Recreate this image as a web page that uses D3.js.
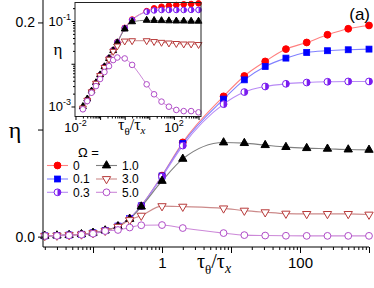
<!DOCTYPE html>
<html><head><meta charset="utf-8">
<script src="https://cdn.jsdelivr.net/npm/d3@7"></script>
<style>body{margin:0;background:#fff}svg{display:block}</style>
</head><body>
<script>
// ---------- data ----------
const tauRatio = [0.02, 0.03, 0.045, 0.068, 0.1, 0.15, 0.23, 0.34, 0.5, 1, 2, 7.8, 15.6, 31.3, 62.5, 125, 250, 500, 1000];
const omegaLabels = ["0", "0.1", "0.3", "1.0", "3.0", "5.0"];
// main panel (linear eta)
const etaW0  = [0.0007,0.001,0.0015,0.0022,0.0035,0.0058,0.0098,0.017,0.0288,0.057,0.088,0.131,0.150,0.1636,0.1751,0.1813,0.1885,0.1941,0.1972];
const etaW01 = [0.0007,0.001,0.0015,0.0022,0.0035,0.0058,0.0098,0.017,0.0287,0.0566,0.087,0.1284,0.1464,0.1589,0.1667,0.172,0.1736,0.1745,0.1751];
const etaW03 = [0.0007,0.001,0.0015,0.0022,0.0035,0.0058,0.0098,0.017,0.0285,0.056,0.085,0.1237,0.135,0.1402,0.1427,0.1439,0.1446,0.1449,0.1449];
const etaW1  = [0.0007,0.001,0.0015,0.0022,0.0035,0.0057,0.0096,0.0165,0.028,0.052,0.0726,0.0879,0.0873,0.0854,0.0836,0.0826,0.082,0.0813,0.081];
const etaW3  = [0.0007,0.001,0.0015,0.0021,0.0033,0.0055,0.0092,0.0155,0.0196,0.0285,0.028,0.0264,0.0243,0.0228,0.0215,0.0212,0.0212,0.0212,0.0206];
const etaW5  = [0.0006,0.0007,0.0012,0.0018,0.0027,0.0052,0.0062,0.0085,0.0106,0.0108,0.008,0.0033,0.0014,0.001,0.0008,0.0007,0.0007,0.0007,0.0007];
// inset (log eta)
const insW0  = [0.00092,0.00144,0.00225,0.0035,0.0054,0.0085,0.0135,0.0207,0.032,0.069,0.108,0.17,0.198,0.216,0.228,0.237,0.246,0.25,0.259];
const insW03 = [0.00088,0.0014,0.0022,0.0035,0.0054,0.0085,0.0135,0.0207,0.0318,0.068,0.105,0.165,0.177,0.181,0.181,0.181,0.181,0.182,0.182];
const insW1  = [0.001,0.0015,0.0023,0.0036,0.0055,0.0085,0.0133,0.0203,0.031,0.065,0.096,0.104,0.103,0.102,0.101,0.1,0.1,0.099,0.099];
const insW3  = [0.00092,0.0014,0.0022,0.0035,0.0053,0.0082,0.0128,0.0195,0.026,0.034,0.0346,0.0346,0.0331,0.0317,0.0306,0.0298,0.029,0.029,0.0282];
const insW5  = [0.00086,0.00134,0.0021,0.003,0.0044,0.0064,0.0088,0.0122,0.014,0.0133,0.0094,0.0033,0.00193,0.0013,0.00099,0.00083,0.00078,0.00078,0.00073];
// ticks
const mainXMajor = [0.1, 1, 10, 100, 1000];
const mainXLabels = {1: "1", 100: "100"};
const mainYTicks = [0, 0.1, 0.2];
const mainYLabels = {0: "0.0", 0.2: "0.2"};
const insXMajor = [0.01, 0.1, 1, 10, 100, 1000];
const insXLabels = {0.01: "-2", 100: "2"};
const insYMajor = [0.001, 0.01, 0.1];
const insYLabels = {0.1: "-1", 0.001: "-3"};

// ---------- styles ----------
const styles = [
  {key:"0",   marker:"circle",  stroke:"#ff0000", fill:"#ff0000", line:"#ff8080"},
  {key:"0.1", marker:"square",  stroke:"#0000ff", fill:"#0000ff", line:"#8080ff"},
  {key:"0.3", marker:"half",    stroke:"#7a1cf0", fill:"#7a1cf0", line:"#b88af5"},
  {key:"1.0", marker:"tri",     stroke:"#000000", fill:"#000000", line:"#808080"},
  {key:"3.0", marker:"tridown", stroke:"#b83a3a", fill:"#ffffff", line:"#cc8a8a"},
  {key:"5.0", marker:"ocircle", stroke:"#b04cc8", fill:"#ffffff", line:"#cc88d8"}
];
const mainSeries = [etaW0, etaW01, etaW03, etaW1, etaW3, etaW5];
const insSeries  = [insW0, null, insW03, insW1, insW3, insW5];

const W = 374, H = 288;
const sans = "'Liberation Sans', Arial, Helvetica, sans-serif";
const serif = "'Liberation Serif', 'Times New Roman', serif";
const svg = d3.select("body").append("svg").attr("width", W).attr("height", H)
  .style("font-family", sans);

function minorTicks(lo, hi) {
  const out = [];
  for (let e = -3; e <= 3; e++) for (let m = 2; m <= 9; m++) {
    const v = m * Math.pow(10, e);
    if (v >= lo && v <= hi) out.push(v);
  }
  return out;
}

function drawMarker(g, type, st, cx, cy, r) {
  if (type === "circle" || type === "ocircle") {
    g.append("circle").attr("cx", cx).attr("cy", cy).attr("r", r)
      .attr("fill", st.fill).attr("stroke", st.stroke).attr("stroke-width", 1);
  } else if (type === "square") {
    const s = r * 1.75;
    g.append("rect").attr("x", cx - s/2).attr("y", cy - s/2).attr("width", s).attr("height", s)
      .attr("fill", st.fill).attr("stroke", st.stroke).attr("stroke-width", 0.8);
  } else if (type === "half") {
    g.append("circle").attr("cx", cx).attr("cy", cy).attr("r", r)
      .attr("fill", "#ffffff").attr("stroke", st.stroke).attr("stroke-width", 1);
    g.append("path").attr("d", `M${cx},${cy - r} A${r},${r} 0 0 1 ${cx},${cy + r} Z`)
      .attr("fill", st.fill);
  } else if (type === "tri" || type === "tridown") {
    const sym = d3.symbol().type(d3.symbolTriangle).size(r * r * 2.6);
    g.append("path").attr("d", sym())
      .attr("transform", `translate(${cx},${cy})` + (type === "tridown" ? " rotate(180)" : ""))
      .attr("fill", st.fill).attr("stroke", st.stroke).attr("stroke-width", 1);
  }
}

// ---------- main panel ----------
const x = d3.scaleLog().domain([Math.pow(10, -1.725), 1000]).range([43, 369]);
const y = d3.scaleLinear().domain([-0.0097, 0.2205]).range([247, 0.5]);

const mainG = svg.append("g");
styles.forEach((st, i) => {
  const pts = tauRatio.map((t, j) => [t, mainSeries[i][j]]);
  const line = d3.line().x(d => x(d[0])).y(d => y(d[1])).curve(d3.curveMonotoneX);
  mainG.append("path").attr("d", line(pts)).attr("fill", "none")
    .attr("stroke", st.line).attr("stroke-width", 1.1);
});
styles.forEach((st, i) => {
  const g = mainG.append("g");
  tauRatio.forEach((t, j) => drawMarker(g, st.marker, st, x(t), y(mainSeries[i][j]), 3.4));
});

// x axis
const xMinor = minorTicks(x.domain()[0], 1000);
svg.append("g").attr("transform", "translate(0,247)")
  .call(d3.axisBottom(x).tickValues(xMinor).tickSize(3).tickSizeOuter(0).tickFormat(""))
  .call(g => g.select(".domain").remove());
const xAx = svg.append("g").attr("transform", "translate(0,247)")
  .call(d3.axisBottom(x).tickValues(mainXMajor).tickSize(6).tickSizeOuter(0)
    .tickFormat(d => mainXLabels[d] || ""));
xAx.select(".domain").attr("d", "M43,0H369");
xAx.selectAll("text").attr("font-size", 15).attr("font-family", sans).attr("dy", null).attr("y", 21);
svg.selectAll(".tick line").attr("stroke", "#000");

// y axis
const yAx = svg.append("g").attr("transform", "translate(43,0)")
  .call(d3.axisLeft(y).tickValues(mainYTicks).tickSize(5).tickSizeOuter(0)
    .tickFormat(d => mainYLabels[d] || ""));
yAx.select(".domain").attr("d", "M0,0V247");
yAx.selectAll("text").attr("font-size", 14).attr("font-family", sans).attr("x", -8);

// axis titles
svg.append("text").attr("x", 15).attr("y", 138).attr("text-anchor", "middle")
  .attr("font-family", serif).attr("font-size", 24).text("η");
const xt = svg.append("text").attr("x", 197).attr("y", 268).attr("font-family", serif).attr("font-size", 20);
xt.append("tspan").text("τ");
xt.append("tspan").attr("font-size", 13).attr("dy", 6).text("θ");
xt.append("tspan").attr("dy", -6).text("/τ");
xt.append("tspan").attr("font-size", 14).attr("font-style", "italic").attr("dy", 5).text("x");

svg.append("text").attr("x", 370).attr("y", 20).attr("text-anchor", "end")
  .attr("font-size", 17).text("(a)");

// legend
const legG = svg.append("g").attr("font-size", 12);
legG.append("text").attr("x", 78).attr("y", 157).attr("font-size", 13).text("Ω =");
styles.forEach((st, i) => {
  const col = Math.floor(i / 3), row = i % 3;
  const lx = col === 0 ? 47 : 96;
  const ly = [165.5, 179, 192.3][row];
  legG.append("line").attr("x1", lx).attr("x2", lx + 21).attr("y1", ly).attr("y2", ly)
    .attr("stroke", st.line).attr("stroke-width", 1.1);
  drawMarker(legG.append("g"), st.marker, st, lx + 10.5, ly, 3.4);
  legG.append("text").attr("x", lx + 26).attr("y", ly + 4.3).text(omegaLabels[i]);
});

// ---------- inset ----------
const ix = d3.scaleLog().domain([Math.pow(10, -2.02), Math.pow(10, 3.1)]).range([75, 201]);
const iy = d3.scaleLog().domain([Math.pow(10, -3.234), Math.pow(10, -0.567)]).range([116.5, 2.5]);
const inG = svg.append("g");
inG.append("rect").attr("x", 75).attr("y", 2.5).attr("width", 126).attr("height", 114)
  .attr("fill", "#fff");
styles.forEach((st, i) => {
  if (!insSeries[i]) return;
  const pts = tauRatio.map((t, j) => [t, insSeries[i][j]]);
  const line = d3.line().x(d => ix(d[0])).y(d => iy(d[1])).curve(d3.curveMonotoneX);
  inG.append("path").attr("d", line(pts)).attr("fill", "none")
    .attr("stroke", st.line).attr("stroke-width", 1);
});
styles.forEach((st, i) => {
  if (!insSeries[i]) return;
  const g = inG.append("g");
  tauRatio.forEach((t, j) => drawMarker(g, st.marker, st, ix(t), iy(insSeries[i][j]), 2.8));
});
inG.append("rect").attr("x", 75).attr("y", 2.5).attr("width", 126).attr("height", 114)
  .attr("fill", "none").attr("stroke", "#222").attr("stroke-width", 1);

// inset axes (outward ticks)
svg.append("g").attr("transform", "translate(0,116.5)")
  .call(d3.axisBottom(ix).tickValues(minorTicks(0.01, 1000)).tickSize(2).tickSizeOuter(0).tickFormat(""))
  .call(g => g.select(".domain").remove());
svg.append("g").attr("transform", "translate(0,116.5)")
  .call(d3.axisBottom(ix).tickValues(insXMajor).tickSize(3.5).tickSizeOuter(0).tickFormat(""))
  .call(g => g.select(".domain").remove());
svg.append("g").attr("transform", "translate(75,0)")
  .call(d3.axisLeft(iy).tickValues(minorTicks(iy.domain()[0], iy.domain()[1])).tickSize(2).tickSizeOuter(0).tickFormat(""))
  .call(g => g.select(".domain").remove());
svg.append("g").attr("transform", "translate(75,0)")
  .call(d3.axisLeft(iy).tickValues(insYMajor).tickSize(3.5).tickSizeOuter(0).tickFormat(""))
  .call(g => g.select(".domain").remove());
svg.selectAll(".tick line").attr("stroke", "#000");

function powLabel(px, py, exp, anchor) {
  const t = svg.append("text").attr("x", px).attr("y", py).attr("text-anchor", anchor)
    .attr("font-size", 13);
  t.append("tspan").text("10");
  t.append("tspan").attr("font-size", 9).attr("dy", -6).text(exp);
}
insXMajor.forEach(v => { if (insXLabels[v]) powLabel(ix(v), 132, insXLabels[v], "middle"); });
insYMajor.forEach(v => { if (insYLabels[v]) powLabel(71, iy(v) + 5, insYLabels[v], "end"); });

svg.append("text").attr("x", 58).attr("y", 55).attr("text-anchor", "middle")
  .attr("font-family", serif).attr("font-size", 17).text("η");
const it = svg.append("text").attr("x", 118).attr("y", 130).attr("font-family", serif).attr("font-size", 16);
it.append("tspan").text("τ");
it.append("tspan").attr("font-size", 11).attr("dy", 5).text("θ");
it.append("tspan").attr("dy", -5).text("/τ");
it.append("tspan").attr("font-size", 11).attr("font-style", "italic").attr("dy", 4).text("x");
</script>
</body></html>
